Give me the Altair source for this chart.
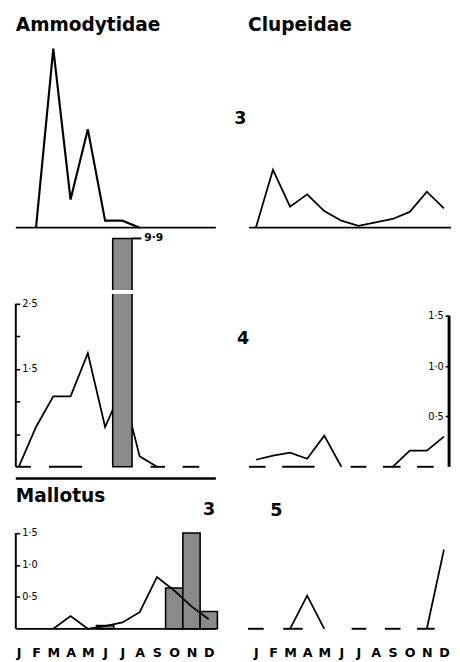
import altair as alt
import pandas as pd

# ---------------- data ----------------
MONTHS = ["J", "F", "M", "A", "M", "J", "J", "A", "S", "O", "N", "D"]
PANEL_TITLES = ["Ammodytidae", "Clupeidae", "Mallotus"]
AREA_LABELS = ["3", "4", "3", "5"]

# Row 1 (area 3), relative units (no axis in the figure)
amm_area3 = [None, 0, 10.2, 1.6, 5.6, 0.4, 0.4, 0, None, None, None, None]
clu_area3 = [0, 3.3, 1.2, 1.9, 0.95, 0.4, 0.1, 0.3, 0.5, 0.9, 2.05, 1.1]

# Row 2 (area 4)
amm_area4 = [0, 0.61, 1.08, 1.08, 1.74, 0.61, 1.21, 0.16, 0, None, None, None]
amm_area4_bar_month = [6]
amm_area4_bar_value = [9.9]
amm_area4_break_at = [2.68]
clu_area4 = [0.07, 0.11, 0.14, 0.08, 0.31, 0, None, None, 0, 0.16, 0.16, 0.30]

# Row 3 (Mallotus, area 3 and area 5)
mal_area3 = [None, None, 0, 0.2, 0, 0.04, 0.1, 0.26, 0.81, 0.6, 0.35, 0.15]
mal_area3_bar_month = [5, 9, 10, 11]
mal_area3_bar_value = [0.05, 0.64, 1.5, 0.27]
mal_area5 = [None, None, 0, 0.52, 0, None, None, None, None, None, 0, 1.24]

# baseline dashes (start / end, in month index)
amm4_dash_start = [-0.17, 1.75, 7.63, 9.49]
amm4_dash_end = [0.7, 3.67, 8.47, 10.45]
clu4_dash_start = [-0.4, 1.54, 5.54, 7.43, 9.43]
clu4_dash_end = [0.57, 3.43, 6.46, 8.46, 10.4]
mal5_dash_start = [-0.46, 1.6, 5.6, 7.54, 9.43]
mal5_dash_end = [0.46, 2.74, 6.46, 8.46, 10.46]

# axis ticks / labels
amm4_ticks = [0.5, 1.0, 1.5, 2.0, 2.5]
amm4_labelled = [2.5, 1.5]
clu4_ticks = [0.5, 1.0, 1.5]
mal3_ticks = [0.5, 1.0, 1.5]

# ---------------- layout / style ----------------
FONT = "DejaVu Sans"
INK = "black"
BAR_FILL = "#8a8a8a"
W = 205
H1, H2, H3 = 216, 234, 155
X_LEFT = [-0.17, 11.41]
X_RIGHT = [-0.4, 11.3]
Y_ROW1 = [0, 12]
Y_AMM4 = [0, 3.5]
Y_CLU4 = [0, 2.27]
Y_ROW3 = [0, 2.37]
LW = 1.8


def dot_fmt(expr):
    return "replace(format(" + expr + ", '.1f'), '.', '\u00b7')"


def line_frame(vals):
    rows, seg, prev = [], 0, False
    for i, v in enumerate(vals):
        if v is None:
            if prev:
                seg += 1
            prev = False
            continue
        rows.append({"m": i, "v": v, "seg": seg})
        prev = True
    return pd.DataFrame(rows)


def encoders(xdom, ydom, xaxis=None, yaxis=None, clamp=False):
    xsc = alt.Scale(domain=xdom, nice=False, zero=False)
    if clamp:
        ysc = alt.Scale(domain=ydom, nice=False, zero=False, clamp=True)
    else:
        ysc = alt.Scale(domain=ydom, nice=False, zero=False)

    def X(f):
        return alt.X(f, type="quantitative", scale=xsc, axis=xaxis)

    def Y(f):
        return alt.Y(f, type="quantitative", scale=ysc, axis=yaxis)

    def Yd(v):
        return alt.YDatum(v, type="quantitative", scale=ysc, axis=yaxis)

    return X, Y, Yd


def one():
    return pd.DataFrame({"k": [0]})


def label(text, x, y, size=18, align="left"):
    return alt.Chart(pd.DataFrame({"t": [text]})).mark_text(
        font=FONT, fontSize=size, fontWeight="bold", color=INK,
        align=align, baseline="middle"
    ).encode(text="t:N", x=alt.value(x), y=alt.value(y))


def line_layer(X, Y, vals, width=LW):
    return alt.Chart(line_frame(vals)).mark_line(
        color=INK, strokeWidth=width, strokeJoin="miter"
    ).encode(x=X("m"), y=Y("v"), detail="seg:N")


def dash_layer(X, Yd, starts, ends):
    return alt.Chart(pd.DataFrame({"a": starts, "b": ends})).mark_rule(
        color=INK, strokeWidth=2
    ).encode(x=X("a"), x2="b:Q", y=Yd(0))


def bar_layer(X, Y, months, values, half=0.5):
    return alt.Chart(pd.DataFrame({"m": months, "v": values})).transform_calculate(
        x0="datum.m - %s" % half, x1="datum.m + %s" % half
    ).mark_rect(fill=BAR_FILL, stroke=INK, strokeWidth=1.6).encode(
        x=X("x0"), x2="x1:Q", y=Y("v"), y2=alt.Y2Datum(0)
    )


def vrule(x, Yd, top, width=2):
    return alt.Chart(one()).mark_rule(color=INK, strokeWidth=width).encode(
        x=alt.value(x), y=Yd(0), y2=alt.Y2Datum(top)
    )


def hrule(Yd, x2=W, width=1.8):
    return alt.Chart(one()).mark_rule(color=INK, strokeWidth=width).encode(
        x=alt.value(0), x2=alt.value(x2), y=Yd(0)
    )


month_expr = "[" + ",".join("'%s'" % m for m in MONTHS) + "][datum.value]"


def month_axis():
    return alt.Axis(
        values=list(range(12)), labelExpr=month_expr, domain=False, ticks=False,
        tickSize=0, grid=False, labelPadding=24, labelFont=FONT, labelFontSize=13,
        labelFontWeight="bold", labelColor=INK, labelAngle=0, labelOverlap=False,
        labelFlush=False, labelBaseline="middle", title=None,
    )


def value_axis(orient, ticks, labelled=None):
    if labelled is None:
        expr = dot_fmt("datum.value")
    else:
        cond = " || ".join("datum.value == %s" % v for v in labelled)
        expr = "(" + cond + ") ? " + dot_fmt("datum.value") + " : ''"
    return alt.Axis(
        orient=orient, offset=-W, values=ticks, domain=False, grid=False,
        ticks=True, tickSize=4, tickWidth=1.6, tickColor=INK, labelExpr=expr,
        labelPadding=2, labelFont=FONT, labelFontSize=10, labelColor=INK,
        labelOverlap=False, labelFlush=False, title=None,
    )


# ---------- Row 1 left: Ammodytidae area 3 ----------
X, Y, Yd = encoders(X_LEFT, Y_ROW1)
p11 = alt.layer(
    hrule(Yd),
    line_layer(X, Y, amm_area3, 2.2),
    label(PANEL_TITLES[0], 0, 8, size=19),
).properties(width=W, height=H1)

# ---------- Row 1 right: Clupeidae area 3 ----------
X, Y, Yd = encoders(X_RIGHT, Y_ROW1)
p12 = alt.layer(
    hrule(Yd, x2=W + 2),
    line_layer(X, Y, clu_area3),
    label(PANEL_TITLES[1], -1, 8, size=19),
    label(AREA_LABELS[0], -9, 105, align="center"),
).properties(width=W, height=H1)

# ---------- Row 2 left: Ammodytidae area 4 ----------
ax = value_axis("right", amm4_ticks, amm4_labelled)
X, Y, Yd = encoders(X_LEFT, Y_AMM4, yaxis=ax, clamp=True)
bar_df = pd.DataFrame({"m": amm_area4_bar_month, "v": amm_area4_bar_value})
bar4 = bar_layer(X, Y, amm_area4_bar_month, amm_area4_bar_value, half=0.56)
brk = alt.Chart(pd.DataFrame({"m": amm_area4_bar_month, "b": amm_area4_break_at})).transform_calculate(
    x0="datum.m - 0.7", x1="datum.m + 0.7"
).mark_rule(color="white", strokeWidth=4).encode(x=X("x0"), x2="x1:Q", y=Y("b"))
top_tick = alt.Chart(bar_df).transform_calculate(
    x1="datum.m + 0.56", x2="datum.m + 1.1"
).mark_rule(color=INK, strokeWidth=2).encode(x=X("x1"), x2="x2:Q", y=Y("v"))
top_text = alt.Chart(bar_df).transform_calculate(
    x2="datum.m + 1.1", t=dot_fmt("datum.v")
).mark_text(font=FONT, fontSize=11, fontWeight="bold", color=INK, align="left",
            baseline="middle", dx=3).encode(x=X("x2"), y=Y("v"), text="t:N")
p21 = alt.layer(
    vrule(0, Yd, 2.5),
    dash_layer(X, Yd, amm4_dash_start, amm4_dash_end),
    line_layer(X, Y, amm_area4),
    bar4,
    brk,
    top_tick,
    top_text,
).properties(width=W, height=H2)

# ---------- Row 2 right: Clupeidae area 4 ----------
ax = value_axis("left", clu4_ticks)
X, Y, Yd = encoders(X_RIGHT, Y_CLU4, yaxis=ax)
p22 = alt.layer(
    vrule(W, Yd, 1.5, width=3),
    dash_layer(X, Yd, clu4_dash_start, clu4_dash_end),
    line_layer(X, Y, clu_area4),
    label(AREA_LABELS[1], -6, 103, align="center"),
).properties(width=W, height=H2)

# ---------- Row 3 left: Mallotus area 3 ----------
ax = value_axis("right", mal3_ticks)
X, Y, Yd = encoders(X_LEFT, Y_ROW3, xaxis=month_axis(), yaxis=ax)
sep = alt.Chart(one()).mark_rule(color=INK, strokeWidth=2.6).encode(
    x=alt.value(0), x2=alt.value(W), y=alt.value(1)
)
p31 = alt.layer(
    sep,
    vrule(0, Yd, 1.5),
    hrule(Yd),
    bar_layer(X, Y, mal_area3_bar_month, mal_area3_bar_value),
    line_layer(X, Y, mal_area3),
    label(PANEL_TITLES[2], 0, 19, size=19),
    label(AREA_LABELS[2], 198, 33, align="center"),
).properties(width=W, height=H3)

# ---------- Row 3 right: area 5 ----------
X, Y, Yd = encoders(X_RIGHT, Y_ROW3, xaxis=month_axis())
p32 = alt.layer(
    dash_layer(X, Yd, mal5_dash_start, mal5_dash_end),
    line_layer(X, Y, mal_area5),
    label(AREA_LABELS[3], 28, 34, align="center"),
).properties(width=W, height=H3)

chart = alt.concat(
    p11, p12, p21, p22, p31, p32,
    columns=2, spacing={"row": 11, "column": 34}, bounds="flush",
).properties(
    padding={"left": 6, "top": 0, "right": 0, "bottom": 0}
).configure_view(stroke=None)

chart.save("out.html", embed_options={"renderer": "svg", "actions": False})
